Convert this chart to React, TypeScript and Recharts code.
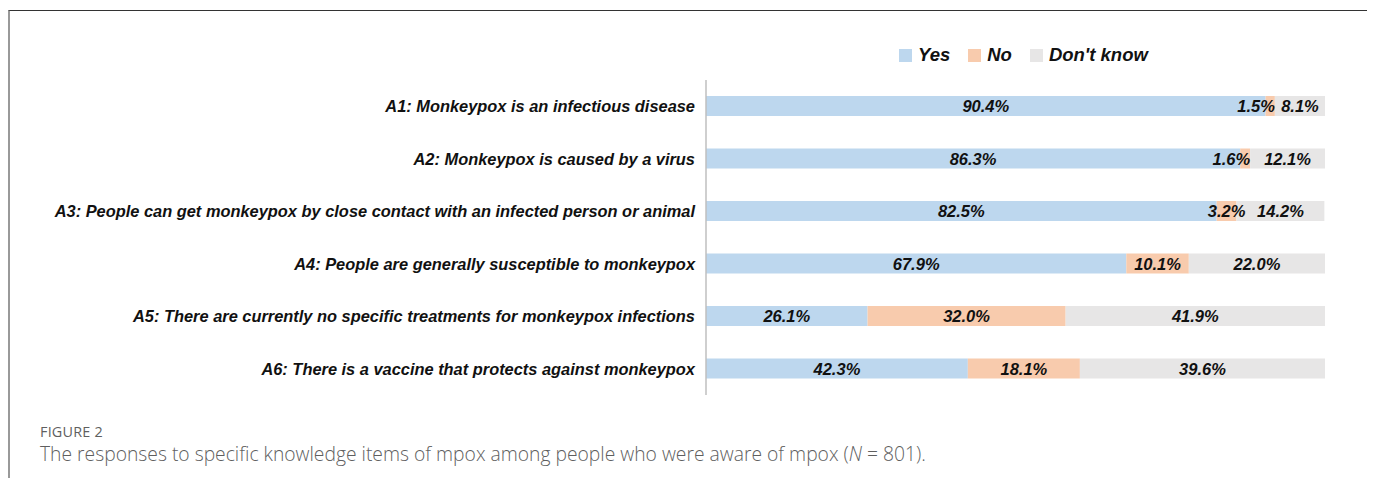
import { BarChart, Bar, XAxis, YAxis, LabelList } from "recharts";

const categories = [
  "A1: Monkeypox is an infectious disease",
  "A2: Monkeypox is caused by a virus",
  "A3: People can get monkeypox by close contact with an infected person or animal",
  "A4: People are generally susceptible to monkeypox",
  "A5: There are currently no specific treatments for monkeypox infections",
  "A6: There is a vaccine that protects against monkeypox",
];
const yesValues = [90.4, 86.3, 82.5, 67.9, 26.1, 42.3];
const noValues = [1.5, 1.6, 3.2, 10.1, 32.0, 18.1];
const dontKnowValues = [8.1, 12.1, 14.2, 22.0, 41.9, 39.6];

const seriesNames = ["Yes", "No", "Don't know"];
const seriesColors = ["#bdd7ee", "#f8cbad", "#e7e6e6"];

const data = categories.map((name, i) => ({
  name,
  yes: yesValues[i],
  no: noValues[i],
  dk: dontKnowValues[i],
}));

const FONT = "'Liberation Sans', Arial, sans-serif";

const ValueLabel = (props: any) => {
  const { x, y, width, height, value } = props;
  const small = width < 12;
  return (
    <text
      x={small ? x + width : x + width / 2}
      y={y + height / 2}
      textAnchor={small ? "end" : "middle"}
      dominantBaseline="central"
      fontFamily={FONT}
      fontSize={16.5}
      fontWeight="bold"
      fontStyle="italic"
      fill="#111"
    >
      {Number(value).toFixed(1)}%
    </text>
  );
};

export default function App() {
  return (
    <div
      style={{
        position: "relative",
        width: 1375,
        height: 486,
        margin: -8,
        overflow: "hidden",
        background: "#fff",
      }}
    >
      {/* figure frame */}
      <div
        style={{
          position: "absolute",
          left: 8,
          top: 10,
          width: 1358,
          height: 500,
          borderTop: "1.5px solid #333",
          borderLeft: "2px solid #999",
          borderRight: "2px solid #999",
        }}
      />

      {/* legend */}
      <div
        style={{
          position: "absolute",
          left: 899,
          top: 44,
          display: "flex",
          alignItems: "center",
          fontFamily: FONT,
          fontSize: 18.5,
          fontWeight: "bold",
          fontStyle: "italic",
          color: "#111",
        }}
      >
        {seriesNames.map((n, i) => (
          <div key={n} style={{ display: "flex", alignItems: "center", marginRight: 18 }}>
            <span
              style={{
                width: 13,
                height: 13,
                background: seriesColors[i],
                display: "inline-block",
                marginRight: 6,
              }}
            />
            <span>{n}</span>
          </div>
        ))}
      </div>

      <div style={{ position: "absolute", left: 0, top: 0 }}>
        <BarChart
          width={1375}
          height={420}
          data={data}
          layout="vertical"
          margin={{ top: 80, right: 50, bottom: 25, left: 0 }}
          barSize={20}
        >
          <XAxis type="number" domain={[0, 100]} hide />
          <YAxis
            type="category"
            dataKey="name"
            width={706}
            tickLine={false}
            tickMargin={5}
            axisLine={{ stroke: "#bfbfbf", strokeWidth: 1.5 }}
            tick={{
              fontFamily: FONT,
              fontSize: 16.4,
              fontWeight: "bold",
              fontStyle: "italic",
              fill: "#111",
            }}
          />
          <Bar dataKey="yes" stackId="a" fill={seriesColors[0]} isAnimationActive={false}>
            <LabelList dataKey="yes" content={ValueLabel} />
          </Bar>
          <Bar dataKey="no" stackId="a" fill={seriesColors[1]} isAnimationActive={false}>
            <LabelList dataKey="no" content={ValueLabel} />
          </Bar>
          <Bar dataKey="dk" stackId="a" fill={seriesColors[2]} isAnimationActive={false}>
            <LabelList dataKey="dk" content={ValueLabel} />
          </Bar>
        </BarChart>
      </div>

      {/* caption */}
      <div
        style={{
          position: "absolute",
          left: 40,
          top: 422,
          fontFamily: "'Open Sans', sans-serif",
          color: "#5f5f5f",
        }}
      >
        <div style={{ fontSize: 14.4, letterSpacing: 0.2 }}>FIGURE 2</div>
        <div style={{ fontSize: 19.3, fontWeight: 300, marginTop: -1 }}>
          The responses to specific knowledge items of mpox among people who were aware of mpox (
          <i>N</i> = 801).
        </div>
      </div>
    </div>
  );
}
